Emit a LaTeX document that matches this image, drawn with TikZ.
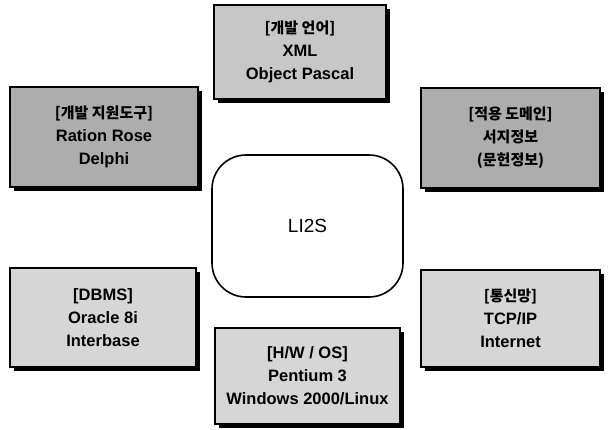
\documentclass[tikz,border=0pt]{standalone}
\usepackage{fontspec}
\setmainfont{Liberation Sans}
\newfontfamily\krfont{Noto Sans CJK KR}
\usetikzlibrary{shadows}

\definecolor{boxlight}{gray}{0.84}
\definecolor{boxmid}{gray}{0.78}
\definecolor{boxdark}{gray}{0.68}

\newcommand{\kr}[1]{{\krfont\fontsize{15}{23}\selectfont #1}}

\tikzset{
  infobox/.style={draw=black, line width=1.2pt, fill=#1, align=center,
    font=\bfseries\fontsize{16.5}{23}\selectfont, inner sep=0pt,
    drop shadow={shadow xshift=4pt, shadow yshift=-4pt, fill=black, opacity=1}},
  corebox/.style={draw=black, line width=1.6pt, rounded corners=34pt, fill=white,
    font=\fontsize{19}{22}\selectfont}
}

\begin{document}
\begin{tikzpicture}[x=1pt, y=-1pt]
  \useasboundingbox (0,0) rectangle (613,430);
  % centre
  \node[corebox, minimum width=191pt, minimum height=142pt] (core) at (307.5,226) {LI2S};
  % upper row
  \node[infobox=boxdark, minimum width=188pt, minimum height=100pt] (tools) at (104,137)
    {\kr{[개발 지원도구]}\\Ration Rose\\Delphi};
  \node[infobox=boxmid, minimum width=172pt, minimum height=94pt] (lang) at (300,52)
    {\kr{[개발 언어]}\\XML\\Object Pascal};
  \node[infobox=boxdark, minimum width=179pt, minimum height=100pt] (domain) at (510.5,138)
    {\kr{[적용 도메인]}\\\kr{서지정보}\\\kr{(문헌정보)}};
  % lower row
  \node[infobox=boxlight, minimum width=186pt, minimum height=99pt] (dbms) at (103,317.5)
    {[DBMS]\\Oracle 8i\\Interbase};
  \node[infobox=boxlight, minimum width=185pt, minimum height=96pt] (hwos) at (307.5,376)
    {[H/W / OS]\\Pentium 3\\Windows 2000/Linux};
  \node[infobox=boxlight, minimum width=179pt, minimum height=97pt] (net) at (510.5,318.5)
    {\kr{[통신망]}\\TCP/IP\\Internet};
\end{tikzpicture}
\end{document}
